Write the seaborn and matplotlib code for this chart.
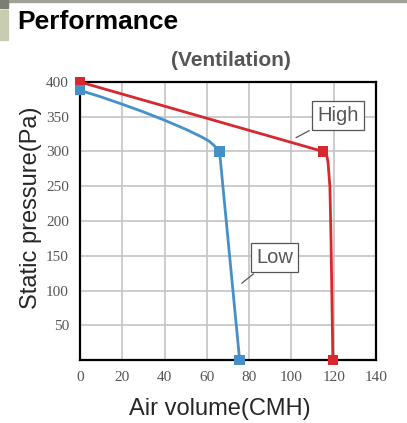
import numpy as np
import pandas as pd
import matplotlib
matplotlib.use("Agg")
import matplotlib.pyplot as plt
from matplotlib.patches import Rectangle
import seaborn as sns

# curve data (air volume CMH, static pressure Pa)
high_x = [0, 115, 116.6, 117.3, 117.8, 118.2, 118.7, 119.6]
high_y = [400, 300, 296, 285, 265, 249, 177, 0]
low_x = [0, 10, 20, 30, 40, 50, 57.5, 61, 64, 66, 75.5]
low_y = [388, 378.5, 368, 357, 345, 332, 321, 315, 307, 300, 0]
high_mark_x = [0, 115, 119.6]
high_mark_y = [400, 300, 0]
low_mark_x = [0, 66, 75.5]
low_mark_y = [388, 300, 0]
x_ticks = [0, 20, 40, 60, 80, 100, 120, 140]
y_ticks = [50, 100, 150, 200, 250, 300, 350, 400]

red = "#d7282f"
blue = "#4590c8"

sns.set_style("white")
plt.rcParams["font.family"] = ["Liberation Sans", "DejaVu Sans"]
fig = plt.figure(figsize=(4.07, 4.23), dpi=100)
ax = fig.add_axes([80 / 407, 1 - 360 / 423, 296 / 407, 278 / 423])

df_high = pd.DataFrame({"x": high_x, "y": high_y})
df_low = pd.DataFrame({"x": low_x, "y": low_y})
sns.lineplot(data=df_high, x="x", y="y", sort=False, color=red, lw=2.0, ax=ax, zorder=3)
sns.lineplot(data=df_low, x="x", y="y", sort=False, color=blue, lw=2.0, ax=ax, zorder=3)
sns.scatterplot(x=high_mark_x, y=high_mark_y, marker="s", s=55, color=red,
                edgecolor="none", ax=ax, zorder=4, clip_on=False)
sns.scatterplot(x=low_mark_x, y=low_mark_y, marker="s", s=55, color=blue,
                edgecolor="none", ax=ax, zorder=4, clip_on=False)

ax.set_xlim(0, 140)
ax.set_ylim(0, 400)
ax.set_xticks(x_ticks)
ax.set_yticks(y_ticks)
ax.grid(True, color="#c4c4c4", lw=1.2)
ax.set_axisbelow(True)
for s in ax.spines.values():
    s.set_color("black")
    s.set_linewidth(1.6)
ax.tick_params(length=0, pad=8, labelsize=11, labelcolor="#555555")
for lab in ax.get_xticklabels() + ax.get_yticklabels():
    lab.set_family("Liberation Serif")

ax.set_xlabel("Air volume(CMH)", fontsize=17)
ax.set_ylabel("Static pressure(Pa)", fontsize=17)
ax.xaxis.set_label_coords(0.473, -0.135)
ax.yaxis.set_label_coords(-0.13, 0.547)

# callouts
box = dict(boxstyle="square,pad=0.25", fc="white", ec="#555555", lw=0.9)
arrow = dict(arrowstyle="-", color="#555555", lw=0.9)
ax.annotate("High", xy=(101, 318), xytext=(122, 352), fontsize=14.5, color="#555555",
            ha="center", va="center", bbox=box, arrowprops=arrow, zorder=5)
ax.annotate("Low", xy=(75.5, 108), xytext=(92, 148), fontsize=14.5, color="#555555",
            ha="center", va="center", bbox=box, arrowprops=arrow, zorder=5)

fig.text(0.568, 1 - 60 / 423, "(Ventilation)", fontsize=15, fontweight="bold",
         color="#555555", ha="center", va="center")
fig.text(17 / 407, 1 - 22 / 423, "Performance", fontsize=19, fontweight="bold",
         color="black", ha="left", va="center")

# page decoration
fig.patches.append(Rectangle((0, 1 - 2 / 423), 1, 2 / 423, transform=fig.transFigure,
                             color="#a0a298", zorder=0))
fig.patches.append(Rectangle((0, 1 - 8 / 423), 8 / 407, 8 / 423, transform=fig.transFigure,
                             color="#7c7e74", zorder=0))
fig.patches.append(Rectangle((0, 1 - 40 / 423), 8 / 407, 30 / 423, transform=fig.transFigure,
                             color="#c8cdb2", zorder=0))

fig.savefig("out.png", dpi=100)
